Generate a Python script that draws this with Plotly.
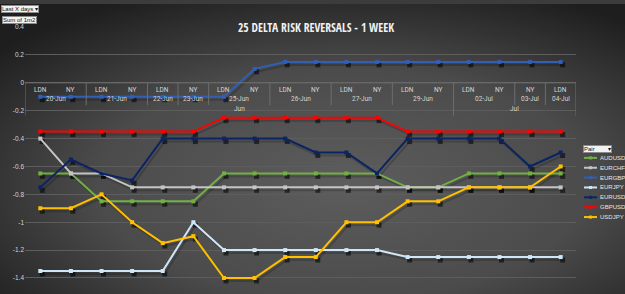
import base64
import plotly.graph_objects as go

# ---------------- data ----------------
sessions = ["LDN", "NY", "LDN", "NY", "LDN", "NY", "LDN", "NY", "LDN", "NY",
            "LDN", "NY", "LDN", "NY", "LDN", "NY", "NY", "LDN"]
dates = ["20-Jun", "20-Jun", "21-Jun", "21-Jun", "22-Jun", "23-Jun", "25-Jun", "25-Jun",
         "26-Jun", "26-Jun", "27-Jun", "27-Jun", "29-Jun", "29-Jun", "02-Jul", "02-Jul",
         "03-Jul", "04-Jul"]
months = ["Jun"] * 14 + ["Jul"] * 4
categories = [f"{d} {s}" for d, s in zip(dates, sessions)]

AUDUSD = [-0.65, -0.65, -0.85, -0.85, -0.85, -0.85, -0.65, -0.65, -0.65, -0.65, -0.65, -0.65,
          -0.75, -0.75, -0.65, -0.65, -0.65, -0.65]
EURCHF = [-0.40, -0.65, -0.65] + [-0.75] * 15
EURGBP = [-0.10] * 7 + [0.10] + [0.15] * 10
EURJPY = [-1.35] * 5 + [-1.00] + [-1.20] * 6 + [-1.25] * 6
EURUSD = [-0.75, -0.55, -0.65, -0.70, -0.40, -0.40, -0.40, -0.40, -0.40, -0.50, -0.50, -0.65,
          -0.40, -0.40, -0.40, -0.40, -0.60, -0.50]
GBPUSD = [-0.35] * 6 + [-0.25] * 6 + [-0.35] * 6
USDJPY = [-0.90, -0.90, -0.80, -1.00, -1.15, -1.10, -1.40, -1.40, -1.25, -1.25, -1.00, -1.00,
          -0.85, -0.85, -0.75, -0.75, -0.75, -0.60]

series = {"AUDUSD": AUDUSD, "EURCHF": EURCHF, "EURGBP": EURGBP, "EURJPY": EURJPY,
          "EURUSD": EURUSD, "GBPUSD": GBPUSD, "USDJPY": USDJPY}
colors = {"AUDUSD": "#72b043", "EURCHF": "#c4c4c4", "EURGBP": "#2f5fb8", "EURJPY": "#cfe6f7",
          "EURUSD": "#0b2463", "GBPUSD": "#ff0000", "USDJPY": "#ffc000"}

ytickvals = [0.4, 0.2, 0, -0.2, -0.4, -0.6, -0.8, -1.0, -1.2, -1.4]
yticktext = ["0.4", "0.2", "0", "-0.2", "-0.4", "-0.6", "-0.8", "-1", "-1.2", "-1.4"]

# ---------------- layout constants ----------------
W, H = 625, 294
XDOM = [25 / W, 576 / W]
YDOM = [0, 1 - 23.4 / H]
YR = [-1.515, 0.4]
XR = [-0.5, len(categories) - 0.5]
px_per_y = (YDOM[1] - YDOM[0]) * H / (YR[1] - YR[0])
px_per_x = (XDOM[1] - XDOM[0]) * W / (XR[1] - XR[0])
sh_dy = 3 / px_per_y
sh_dx = 2 / px_per_x

fig = go.Figure()

# shadows (base axes, shifted)
for name, vals in series.items():
    fig.add_trace(go.Scatter(x=categories, y=vals, mode="lines+markers", xaxis="x", yaxis="y",
                             line=dict(color="rgba(0,0,0,0.18)", width=2),
                             marker=dict(symbol="square", size=5, color="rgba(0,0,0,0.55)"),
                             showlegend=False, hoverinfo="skip"))
# main series
for name, vals in series.items():
    fig.add_trace(go.Scatter(x=categories, y=vals, mode="lines+markers", name=name,
                             xaxis="x2", yaxis="y2",
                             line=dict(color=colors[name], width=2),
                             marker=dict(symbol="square", size=4, color=colors[name]),
                             showlegend=False))

# background gradient
svg = (f"<svg xmlns='http://www.w3.org/2000/svg' width='{W}' height='{H}'>"
       "<defs><radialGradient id='g' cx='0.55' cy='0.62' r='0.72'>"
       "<stop offset='0' stop-color='#5d5d5d'/><stop offset='0.55' stop-color='#4b4b4b'/>"
       "<stop offset='1' stop-color='#1e1e1e'/></radialGradient></defs>"
       f"<rect width='{W}' height='{H}' fill='url(#g)'/></svg>")
bg = "data:image/svg+xml;base64," + base64.b64encode(svg.encode()).decode()

shapes = []
annotations = []
axis_col = "#6e6e6e"
lab_col = "#d4d4d4"
lab_font = dict(family="Liberation Sans Narrow, Arial Narrow, Roboto", size=6.5, color=lab_col)

# category axis box at y=0
shapes.append(dict(type="line", xref="x2", yref="y2", x0=XR[0], x1=XR[1], y0=0, y1=0,
                   line=dict(color=axis_col, width=1)))
n = len(categories)
for i in range(n + 1):
    b = i - 0.5
    if i in (0, n) or months[i - 1] != months[i]:
        y_end = -0.235
    elif dates[i - 1] != dates[i]:
        y_end = -0.16
    else:
        continue
    shapes.append(dict(type="line", xref="x2", yref="y2", x0=b, x1=b, y0=0, y1=y_end,
                       line=dict(color=axis_col, width=1)))

for i, s in enumerate(sessions):
    annotations.append(dict(x=i, y=-0.05, xref="x2", yref="y2", text=s, showarrow=False,
                            font=lab_font))
# date groups
start = 0
for i in range(1, n + 1):
    if i == n or dates[i] != dates[start]:
        annotations.append(dict(x=(start + i - 1) / 2, y=-0.115, xref="x2", yref="y2",
                                text=dates[start], showarrow=False, font=lab_font))
        start = i
start = 0
for i in range(1, n + 1):
    if i == n or months[i] != months[start]:
        annotations.append(dict(x=(start + i - 1) / 2, y=-0.19, xref="x2", yref="y2",
                                text=months[start], showarrow=False, font=lab_font))
        start = i

# title
annotations.append(dict(x=316 / W, y=1 - 14 / H, xref="paper", yref="paper",
                        text="<b>25 DELTA RISK REVERSALS - 1 WEEK</b>", showarrow=False,
                        font=dict(family="Open Sans Condensed, Liberation Sans Narrow, Arial",
                                  size=11.6, color="#f2f2f2")))

# pivot field buttons
btn_font = dict(family="Liberation Sans Narrow, Arial", size=6, color="#111111")
annotations.append(dict(x=1 / W, y=1 - 1 / H, xref="paper", yref="paper", xanchor="left",
                        yanchor="top", text="Last X days ▾", showarrow=False, font=btn_font,
                        bgcolor="#f2f2f2", bordercolor="#8a8a8a", borderwidth=1, borderpad=0))
annotations.append(dict(x=2 / W, y=1 - 12 / H, xref="paper", yref="paper", xanchor="left",
                        yanchor="top", text="Sum of 1m2", showarrow=False, font=btn_font,
                        bgcolor="#f2f2f2", bordercolor="#8a8a8a", borderwidth=1, borderpad=0))
annotations.append(dict(x=583 / W, y=1 - 143 / H, xref="paper", yref="paper", xanchor="left",
                        yanchor="top", text="Pair        ▾", showarrow=False, font=btn_font,
                        bgcolor="#f2f2f2", bordercolor="#8a8a8a", borderwidth=1, borderpad=0))

# legend (manual, compact)
for k, name in enumerate(series):
    yp = 1 - (156 + 10 * k) / H
    shapes.append(dict(type="line", xref="paper", yref="paper", x0=584 / W, x1=597 / W,
                       y0=yp, y1=yp, line=dict(color=colors[name], width=2)))
    shapes.append(dict(type="rect", xref="paper", yref="paper", x0=589 / W, x1=592 / W,
                       y0=yp - 1.5 / H, y1=yp + 1.5 / H, line=dict(width=0),
                       fillcolor=colors[name]))
    annotations.append(dict(x=598 / W, y=yp, xref="paper", yref="paper", xanchor="left",
                            yanchor="middle", text=name, showarrow=False,
                            font=dict(family="Liberation Sans Narrow, Arial", size=6,
                                      color="#e6e6e6")))

fig.update_layout(
    width=W, height=H, margin=dict(l=0, r=0, t=0, b=0),
    paper_bgcolor="#3c3c3c", plot_bgcolor="rgba(0,0,0,0)",
    images=[dict(source=bg, xref="paper", yref="paper", x=0, y=1, sizex=1, sizey=1,
                 sizing="stretch", layer="below", xanchor="left", yanchor="top")],
    xaxis=dict(domain=XDOM, type="category", categoryorder="array", categoryarray=categories,
               range=[XR[0] - sh_dx, XR[1] - sh_dx], visible=False, fixedrange=True),
    yaxis=dict(domain=YDOM, range=[YR[0] + sh_dy, YR[1] + sh_dy], visible=False, fixedrange=True),
    xaxis2=dict(domain=XDOM, type="category", categoryorder="array", categoryarray=categories,
                range=XR, overlaying="x", anchor="y2", showgrid=False, showticklabels=False,
                zeroline=False, showline=False, ticks=""),
    yaxis2=dict(domain=YDOM, range=YR, overlaying="y", anchor="x2", side="left",
                tickvals=ytickvals, ticktext=yticktext, showgrid=True, gridcolor="#5d5d5d",
                gridwidth=1, zeroline=False, showline=False, ticks="",
                tickfont=dict(family="Liberation Sans Narrow, Arial", size=6.5, color=lab_col)),
    shapes=shapes, annotations=annotations, showlegend=False,
)

fig.write_html("out.html")
